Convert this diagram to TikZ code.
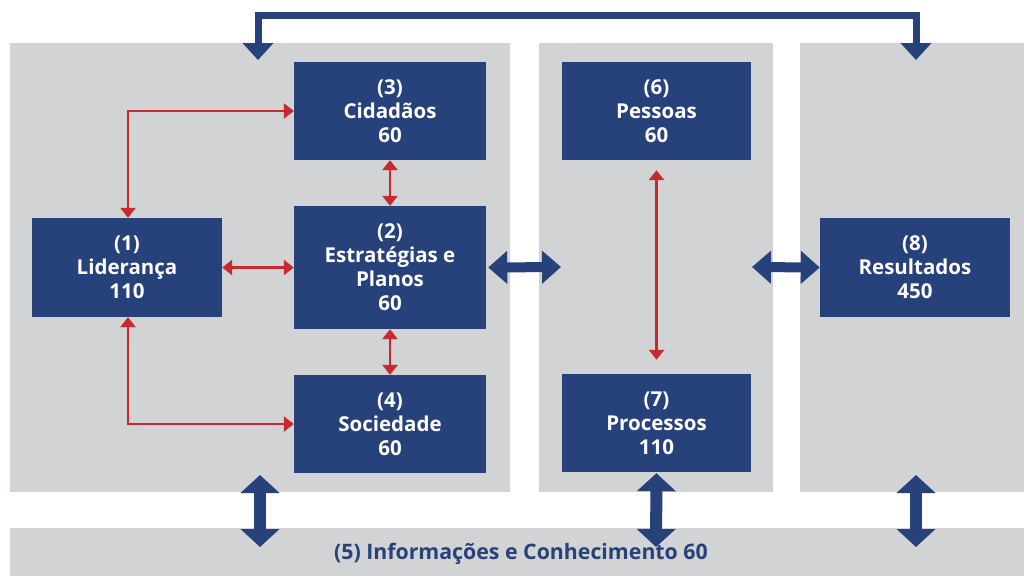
\documentclass[tikz,border=0pt]{standalone}
\usepackage{fontspec}
\setmainfont{Open Sans}
\usetikzlibrary{arrows.meta}
\definecolor{panelgrey}{HTML}{D1D3D5}
\definecolor{boxblue}{HTML}{27417A}
\definecolor{linkred}{HTML}{C8282E}
\tikzset{
  panel/.style={fill=panelgrey, draw=none, inner sep=0pt, anchor=north west},
  critbox/.style={fill=boxblue, draw=none, text=white, align=center, inner sep=0pt,
    font=\fontsize{20.5}{24}\selectfont\bfseries},
  redlink/.style={draw=linkred, line width=2.6pt,
    {Triangle[width=15pt,length=10pt]}-{Triangle[width=15pt,length=10pt]}},
  bluelink/.style={draw=boxblue, line width=12pt,
    {Triangle[width=38pt,length=18pt]}-{Triangle[width=38pt,length=18pt]}},
  bluelinkh/.style={draw=boxblue, line width=10pt,
    {Triangle[width=32pt,length=19pt]}-{Triangle[width=32pt,length=19pt]}},
  toplink/.style={draw=boxblue, line width=7pt, line join=miter,
    {Triangle[width=30pt,length=17pt]}-{Triangle[width=30pt,length=17pt]}}
}
\begin{document}
\begin{tikzpicture}[x=1pt,y=-1pt]
\useasboundingbox (0,0) rectangle (1024,576);
\fill[white] (0,0) rectangle (1024,576);
% panels
\node[panel, minimum width=500pt, minimum height=449pt] (pl) at (10,43) {};
\node[panel, minimum width=234pt, minimum height=449pt] (pm) at (539,43) {};
\node[panel, minimum width=224pt, minimum height=449pt] (pr) at (800,43) {};
\node[panel, minimum width=1014pt, minimum height=48pt] (pb) at (10,528) {};
\node[text=boxblue, font=\fontsize{21.3}{24}\selectfont\bfseries] (t5) at (521,554) {(5) Informações e Conhecimento 60};
% boxes
\node[critbox, minimum width=192pt, minimum height=98pt] (n3) at (390,111) {(3)\\Cidadãos\\60};
\node[critbox, minimum width=192pt, minimum height=123pt] (n2) at (390,267.5) {(2)\\Estratégias e\\Planos\\60};
\node[critbox, minimum width=192pt, minimum height=98pt] (n4) at (390,424) {(4)\\Sociedade\\60};
\node[critbox, minimum width=190pt, minimum height=99pt] (n1) at (127,267.5) {(1)\\Liderança\\110};
\node[critbox, minimum width=189pt, minimum height=98pt] (n6) at (656.5,111) {(6)\\Pessoas\\60};
\node[critbox, minimum width=189pt, minimum height=98pt] (n7) at (656.5,423) {(7)\\Processos\\110};
\node[critbox, minimum width=190pt, minimum height=99pt] (n8) at (915,267.5) {(8)\\Resultados\\450};
% red links
\draw[redlink] ([xshift=1pt]n1.north) |- (n3.west);
\draw[redlink] ([xshift=1pt]n1.south) |- (n4.west);
\draw[redlink] (n1.east) -- (n2.west);
\draw[redlink] (n3.south) -- (n2.north);
\draw[redlink] (n2.south) -- (n4.north);
\draw[redlink, shorten <=10pt, shorten >=14pt] (n6.south) -- (n7.north);
% blue links
\coordinate (hm) at (561,267);
\coordinate (hr) at (752,267);
\draw[bluelinkh] ([xshift=2pt]n2.east) -- (hm);
\draw[bluelinkh] (hr) -- (n8.west);
\coordinate (vl1) at (260,475);
\coordinate (vl2) at (260,547);
\coordinate (vm2) at (656,547);
\coordinate (vr1) at (916,475);
\coordinate (vr2) at (916,547);
\draw[bluelink] (vl1) -- (vl2);
\draw[bluelink] ([yshift=-1pt]n7.south) -- (vm2);
\draw[bluelink] (vr1) -- (vr2);
\coordinate (tl) at (258,60);
\coordinate (tr) at (916,60);
\draw[toplink] (tl) -- (258,15.5) -- (916,15.5) -- (tr);
\end{tikzpicture}
\end{document}
